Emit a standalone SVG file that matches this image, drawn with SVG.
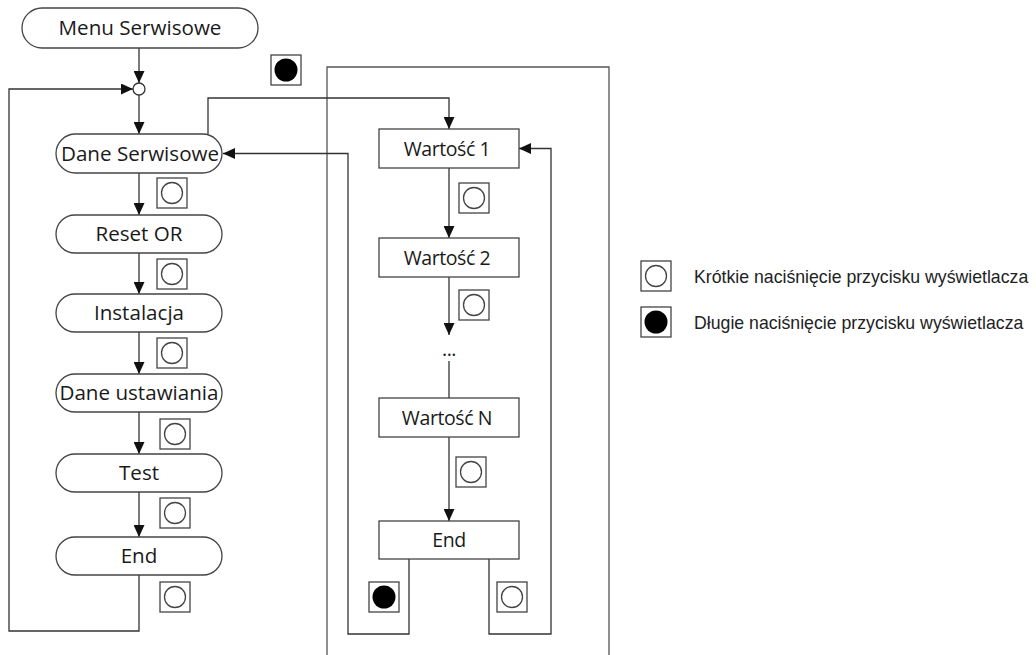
<svg xmlns="http://www.w3.org/2000/svg" xmlns:xlink="http://www.w3.org/1999/xlink" width="1036" height="655" viewBox="0 0 1036 655">
  <style>
    .pill { fill: #ffffff; stroke: #444444; stroke-width: 1.3; }
    .box { fill: #ffffff; stroke: #444444; stroke-width: 1.3; }
    .lbl { font-family: "Open Sans", "Noto Sans", sans-serif; font-size: 20.6px; fill: #1a1a1a; text-anchor: middle; }
    .lbl2 { font-family: "Open Sans", "Noto Sans", sans-serif; font-size: 19.5px; fill: #1a1a1a; text-anchor: middle; letter-spacing: -0.4px; }
    .conn { fill: none; stroke: #333333; stroke-width: 1.3; }
    .frame { fill: none; stroke: #555555; stroke-width: 1.3; }
    .leg { font-family: "Liberation Sans", Arial, sans-serif; font-size: 17.7px; fill: #222222; }
  </style>
  <defs>
    <marker id="arr" markerUnits="userSpaceOnUse" markerWidth="12" markerHeight="11" refX="12" refY="5.5" orient="auto">
      <path d="M0,0 L12,5.5 L0,11 z" fill="#111111"/>
    </marker>
    <g id="btnShort">
      <rect x="0" y="0" width="30" height="30" fill="#ffffff" stroke="#444444" stroke-width="1.3"/>
      <circle cx="15" cy="15" r="10.5" fill="#ffffff" stroke="#444444" stroke-width="1.3"/>
    </g>
    <g id="btnLong">
      <rect x="0" y="0" width="30" height="30" fill="#ffffff" stroke="#444444" stroke-width="1.3"/>
      <circle cx="15" cy="15" r="11.5" fill="#000000"/>
    </g>
  </defs>

  <rect x="0" y="0" width="1036" height="655" fill="#ffffff"/>

  <!-- frame -->
  <path class="frame" d="M327,655 V67 H609 V655"/>

  <!-- connectors -->
  <g id="connectors">
    <path class="conn" d="M139,48 V83" marker-end="url(#arr)"/>
    <path class="conn" d="M139,95 V134" marker-end="url(#arr)"/>
    <path class="conn" d="M139,575 V631 H9 V89 H133" marker-end="url(#arr)"/>
    <path class="conn" d="M139,173 V215" marker-end="url(#arr)"/>
    <path class="conn" d="M139,253 V294" marker-end="url(#arr)"/>
    <path class="conn" d="M139,332 V374" marker-end="url(#arr)"/>
    <path class="conn" d="M139,412 V454" marker-end="url(#arr)"/>
    <path class="conn" d="M139,492 V537" marker-end="url(#arr)"/>
    <path class="conn" d="M208,134 V98 H449 V129" marker-end="url(#arr)"/>
    <path class="conn" d="M409,559 V634 H348 V153.5 H223" marker-end="url(#arr)"/>
    <path class="conn" d="M449,168 V238" marker-end="url(#arr)"/>
    <path class="conn" d="M449,277 V335" marker-end="url(#arr)"/>
    <path class="conn" d="M449,361 V398"/>
    <path class="conn" d="M449,437 V521" marker-end="url(#arr)"/>
    <path class="conn" d="M489,559 V634 H551 V148.5 H519" marker-end="url(#arr)"/>
    <circle cx="139" cy="89" r="6" fill="#ffffff" stroke="#333333" stroke-width="1.3"/>
  </g>

  <!-- button icons on connectors -->
  <g id="buttons">
    <use xlink:href="#btnLong" x="271" y="55"/>
    <use xlink:href="#btnShort" x="157" y="178"/>
    <use xlink:href="#btnShort" x="157" y="259"/>
    <use xlink:href="#btnShort" x="157" y="338"/>
    <use xlink:href="#btnShort" x="160" y="419"/>
    <use xlink:href="#btnShort" x="160" y="498"/>
    <use xlink:href="#btnShort" x="160" y="582"/>
    <use xlink:href="#btnShort" x="459" y="183"/>
    <use xlink:href="#btnShort" x="459" y="290"/>
    <use xlink:href="#btnShort" x="456" y="457"/>
    <use xlink:href="#btnLong" x="369" y="582"/>
    <use xlink:href="#btnShort" x="497" y="582"/>
  </g>

  <!-- left column nodes -->
  <g id="menu-serwisowe">
    <rect class="pill" x="22" y="8" width="236" height="40" rx="20"/>
    <text class="lbl" x="140" y="35">Menu Serwisowe</text>
  </g>
  <g id="dane-serwisowe">
    <rect class="pill" x="56" y="134" width="166" height="39" rx="19.5"/>
    <text class="lbl" x="140" y="160.5">Dane Serwisowe</text>
  </g>
  <g id="reset-or">
    <rect class="pill" x="56" y="215" width="166" height="38" rx="19"/>
    <text class="lbl" x="139" y="241">Reset OR</text>
  </g>
  <g id="instalacja">
    <rect class="pill" x="56" y="294" width="166" height="38" rx="19"/>
    <text class="lbl" x="139" y="320">Instalacja</text>
  </g>
  <g id="dane-ustawiania">
    <rect class="pill" x="56" y="374" width="166" height="38" rx="19"/>
    <text class="lbl" x="139" y="400">Dane ustawiania</text>
  </g>
  <g id="test">
    <rect class="pill" x="56" y="454" width="166" height="38" rx="19"/>
    <text class="lbl" x="139" y="480">Test</text>
  </g>
  <g id="end-left">
    <rect class="pill" x="56" y="537" width="166" height="38" rx="19"/>
    <text class="lbl" x="139" y="563">End</text>
  </g>

  <!-- right column nodes -->
  <g id="wartosc-1">
    <rect class="box" x="379" y="129" width="140" height="39"/>
    <text class="lbl2" x="447" y="155.5">Wartość 1</text>
  </g>
  <g id="wartosc-2">
    <rect class="box" x="379" y="238" width="140" height="39"/>
    <text class="lbl2" x="447" y="264.5">Wartość 2</text>
  </g>
  <g id="ellipsis">
    <text class="lbl2" x="449" y="356">...</text>
  </g>
  <g id="wartosc-n">
    <rect class="box" x="379" y="398" width="140" height="39"/>
    <text class="lbl2" x="447" y="424.5">Wartość N</text>
  </g>
  <g id="end-right">
    <rect class="box" x="379" y="521" width="140" height="38"/>
    <text class="lbl2" x="449" y="547">End</text>
  </g>

  <!-- legend -->
  <g id="legend">
    <use xlink:href="#btnShort" x="641" y="261"/>
    <text class="leg" x="694" y="283">Krótkie naciśnięcie przycisku wyświetlacza</text>
    <use xlink:href="#btnLong" x="641" y="307"/>
    <text class="leg" x="694" y="329">Długie naciśnięcie przycisku wyświetlacza</text>
  </g>
</svg>
